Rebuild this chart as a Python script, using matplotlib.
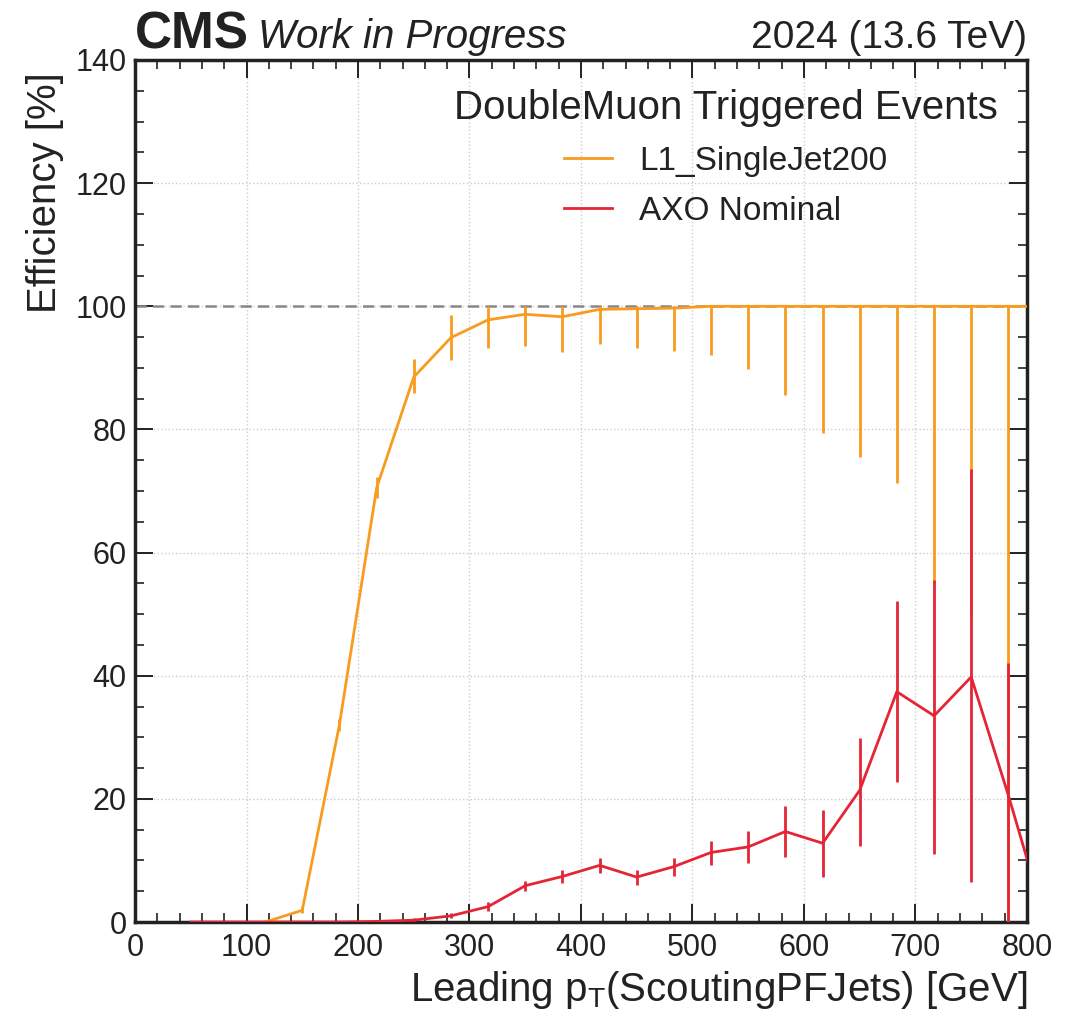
import matplotlib
matplotlib.use("Agg")
import matplotlib.pyplot as plt
from matplotlib.lines import Line2D
from matplotlib.ticker import MultipleLocator

plt.rcParams["font.family"] = ["Liberation Sans", "DejaVu Sans"]

# bin centres of leading jet pT (GeV); last one sits just past the axis edge
pt_orange = [116.7, 150.0, 183.3, 216.7, 250.0, 283.3, 316.7, 350.0, 383.3, 416.7,
             450.0, 483.3, 516.7, 550.0, 583.3, 616.7, 650.0, 683.3, 716.7, 750.0,
             783.3, 816.7]
eff_l1 = [0.0, 1.9, 32.0, 70.5, 88.5, 94.9, 97.8, 98.7, 98.3, 99.5,
          99.6, 99.7, 100.0, 100.0, 100.0, 100.0, 100.0, 100.0, 100.0, 100.0,
          100.0, 100.0]
err_l1_lo = [0.0, 0.5, 1.0, 1.6, 2.6, 3.6, 4.5, 5.2, 5.7, 5.6,
             6.4, 7.0, 7.9, 10.2, 14.4, 20.5, 24.5, 28.7, 45.0, 50.0,
             100.0, 0.0]
err_l1_hi = [0.0, 0.5, 1.0, 1.8, 2.9, 3.7, 2.2, 1.3, 1.7, 0.5,
             0.4, 0.3, 0.0, 0.0, 0.0, 0.0, 0.0, 0.0, 0.0, 0.0,
             0.0, 0.0]

pt_red = [50.0, 83.3, 116.7, 150.0, 183.3, 216.7, 250.0, 283.3, 316.7, 350.0,
          383.3, 416.7, 450.0, 483.3, 516.7, 550.0, 583.3, 616.7, 650.0, 683.3,
          716.7, 750.0, 783.3, 816.7]
eff_axo = [0.0, 0.0, 0.0, 0.0, 0.0, 0.1, 0.3, 1.0, 2.5, 5.9,
           7.4, 9.2, 7.3, 9.0, 11.3, 12.2, 14.7, 12.8, 21.4, 37.4,
           33.5, 39.8, 20.6, 0.0]
err_axo_lo = [0.0, 0.0, 0.0, 0.0, 0.0, 0.1, 0.2, 0.4, 0.7, 0.8,
              1.1, 1.2, 1.3, 1.6, 2.0, 2.6, 4.2, 5.5, 9.1, 14.6,
              22.5, 33.3, 20.6, 0.0]
err_axo_hi = [0.0, 0.0, 0.0, 0.0, 0.0, 0.1, 0.3, 0.5, 0.8, 0.8,
              1.0, 1.2, 1.1, 1.4, 1.8, 2.6, 4.2, 5.4, 8.5, 14.8,
              22.0, 33.8, 21.4, 0.0]

c_orange = "#f89c20"
c_red = "#e42536"
ink = "#222222"

fig = plt.figure(figsize=(10.81, 10.10), dpi=100)
ax = fig.add_axes([0.1249, 0.0871, 0.8251, 0.8535])

ax.axhline(100, ls=(0, (4.5, 2.5)), color="#888888", lw=1.8, zorder=1)
ax.errorbar(pt_orange, eff_l1, yerr=[err_l1_lo, err_l1_hi], color=c_orange,
            lw=2, elinewidth=2, capsize=0, zorder=3)
ax.errorbar(pt_red, eff_axo, yerr=[err_axo_lo, err_axo_hi], color=c_red,
            lw=2, elinewidth=2, capsize=0, zorder=4)

ax.set_xlim(0, 800)
ax.set_ylim(0, 140)
ax.xaxis.set_major_locator(MultipleLocator(100))
ax.xaxis.set_minor_locator(MultipleLocator(20))
ax.yaxis.set_major_locator(MultipleLocator(20))
ax.yaxis.set_minor_locator(MultipleLocator(5))
ax.tick_params(which="both", direction="in", top=True, right=True, labelsize=22,
               color=ink, labelcolor=ink)
ax.tick_params(which="major", length=13, width=1.4)
ax.tick_params(which="minor", length=6.5, width=1.2)
ax.tick_params(axis="x", which="major", pad=8)
ax.tick_params(axis="y", which="major", pad=6)
for s in ax.spines.values():
    s.set_linewidth(2.5)
    s.set_color(ink)
ax.grid(True, which="major", ls=":", color="#cccccc", lw=1)
ax.set_axisbelow(True)

ax.set_xlabel(r"Leading p$_\mathregular{T}$(ScoutingPFJets) [GeV]", fontsize=29,
              loc="right", color=ink, labelpad=4)
ax.set_ylabel("Efficiency [%]", fontsize=29, y=0.986, ha="right", color=ink,
              labelpad=8)

yb = 1.0139
ax.text(0.0, yb, "CMS", transform=ax.transAxes, fontsize=37, fontweight="bold",
        ha="left", va="baseline", color=ink)
ax.text(0.138, yb, "Work in Progress", transform=ax.transAxes, fontsize=29,
        style="italic", ha="left", va="baseline", color=ink)
ax.text(1.0, yb, "2024 (13.6 TeV)", transform=ax.transAxes, fontsize=28,
        ha="right", va="baseline", color=ink)

handles = [Line2D([], [], color=c_orange, lw=2),
           Line2D([], [], color=c_red, lw=2)]
labels = ["L1_SingleJet200", "AXO Nominal"]
leg = ax.legend(handles, labels, title="DoubleMuon Triggered Events",
                loc="upper right", frameon=False, fontsize=24, title_fontsize=29,
                handlelength=1.45, handletextpad=0.8, labelspacing=0.56,
                borderaxespad=0.5, borderpad=0.38)
for t in leg.get_texts():
    t.set_color(ink)
leg.get_title().set_color(ink)

fig.savefig("out.png", dpi=100)
